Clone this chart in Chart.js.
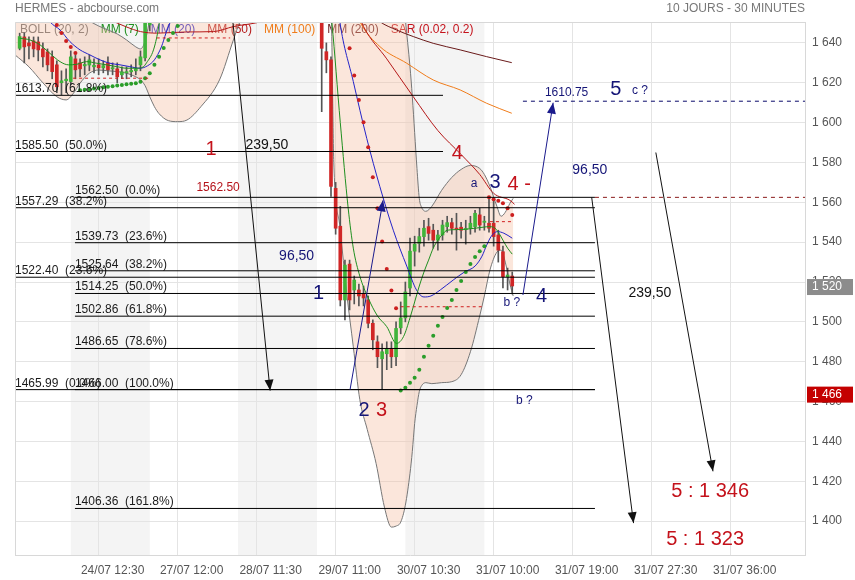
<!DOCTYPE html>
<html>
<head>
<meta charset="utf-8">
<script src="https://cdn.jsdelivr.net/npm/chart.js@4.4.0/dist/chart.umd.min.js"></script>
<style>
html, body { margin: 0; padding: 0; background: #fff; }
</style>
</head>
<body>
<canvas id="grafico" width="855" height="580"></canvas>
<script>
const FUENTE = '"Liberation Sans", Arial, Helvetica, sans-serif';

// ejes
const tickIdx = [18, 35, 52, 69, 86, 103, 120, 137, 154];
const tickLabels = ['24/07 12:30', '27/07 12:00', '28/07 11:30', '29/07 11:00', '30/07 10:30',
    '31/07 10:00', '31/07 19:00', '31/07 27:30', '31/07 36:00'];
const yTicks = [1400, 1420, 1440, 1460, 1480, 1500, 1520, 1540, 1560, 1580, 1600, 1620, 1640];
const bandStart = [12, 48, 84];
const bandEnd = [29, 65, 101];

// velas (indice de barra de 30 min)
const candleX = [1, 2, 3, 4, 5, 6, 7, 8, 9, 10, 11, 12, 13, 14, 15, 16, 17, 18, 19, 20, 21, 22, 23, 24, 25, 26, 27, 28, 29,
    66, 67, 68, 69, 70, 71, 72, 73, 74, 75, 76, 77, 78, 79, 80, 81, 82, 83, 84, 85, 86, 87, 88, 89, 90,
    91, 92, 93, 94, 95, 96, 97, 98, 99, 100, 101, 102, 103, 104, 105, 106, 107];
const openV = [1637.3, 1643, 1640, 1641, 1640.5, 1637, 1635.5, 1633, 1629, 1620, 1621, 1620.6, 1632, 1630, 1628.5,
    1628.9, 1628, 1629, 1627.5, 1630, 1627, 1627, 1624, 1625, 1625.5, 1626, 1629, 1632.5, 1649,
    1656, 1635.6, 1631.5, 1567, 1548, 1511, 1529, 1516, 1516, 1514, 1511, 1499.3, 1490, 1481.5, 1484,
    1486.5, 1482.5, 1497, 1502, 1517, 1535.5, 1539.4, 1542.8, 1547.8, 1546, 1541, 1543.6, 1547.8, 1549.8,
    1547, 1547.5, 1546.3, 1547, 1547.8, 1553.7, 1550, 1549.5, 1549.5, 1543.6, 1535.2, 1522.7, 1523];
const highV = [1644.9, 1645, 1643, 1643, 1643, 1640, 1637, 1636, 1631, 1626, 1627, 1636, 1634, 1632, 1633,
    1634, 1632, 1632, 1631, 1633, 1630, 1630, 1628, 1628, 1629, 1632, 1636, 1652, 1670,
    1662, 1640, 1633, 1570, 1558, 1531, 1531, 1523, 1519, 1518, 1513, 1501, 1493, 1489, 1490,
    1490, 1500, 1510, 1520, 1542, 1543, 1547, 1551, 1552, 1549, 1546, 1551, 1553, 1552,
    1554.5, 1550, 1551, 1553, 1556, 1557, 1553, 1562.5, 1562, 1546, 1538, 1527, 1525];
const lowV = [1636.5, 1630, 1632, 1633, 1631, 1628, 1626, 1622, 1615, 1614, 1615, 1619, 1622, 1623, 1624,
    1626, 1625, 1624, 1625, 1624, 1624, 1620, 1622, 1622, 1623, 1624, 1626, 1631, 1646,
    1605.5, 1625, 1563, 1544, 1508, 1501, 1506, 1509, 1508, 1508, 1497, 1486, 1477, 1466, 1476,
    1477, 1478, 1494, 1500, 1513, 1528, 1535, 1538, 1541, 1537, 1536, 1541, 1545, 1544,
    1536, 1542, 1539, 1544, 1545, 1546, 1546, 1545, 1538, 1530, 1517, 1516, 1514];
const closeV = [1643.2, 1638, 1638.5, 1637, 1636.5, 1633, 1629, 1625.6, 1618, 1621, 1621.8, 1633, 1626.5, 1627, 1629.2,
    1631.5, 1628.8, 1627.5, 1628.6, 1626.5, 1627.6, 1623, 1625.5, 1625.6, 1626.2, 1627, 1633, 1650, 1668,
    1637.3, 1631.5, 1568, 1547, 1511, 1528.5, 1511, 1521, 1513, 1512, 1499.3, 1491, 1482.5, 1485, 1486.5,
    1482.5, 1496.7, 1502, 1515, 1535.5, 1539, 1542.8, 1547, 1544.4, 1541, 1543.6, 1548.6, 1549.8, 1547,
    1546.5, 1546, 1546.8, 1549.5, 1554.5, 1548.6, 1550.5, 1547, 1542.8, 1536, 1522.7, 1523.5, 1518];

// Bollinger (20, 2)
const bbX = [0, 3, 6, 9, 11, 12.5, 14, 16, 18, 20, 22, 24, 26, 27, 28, 29, 30, 31, 33, 35, 37, 40, 44, 47, 48.4,
    52, 56, 60, 64, 66, 67, 68, 68.6, 69.9, 71.4, 72.8, 74.2, 75.8, 77.7, 79.5, 81, 82, 83, 84, 85, 85.5,
    86, 86.5, 87, 87.5, 88.4, 89.7, 91.8, 94, 96, 98, 100, 101, 102.2, 103.7, 104.6, 105.5, 106.5, 107.2];
const bbUpper = [1668, 1666, 1663, 1660, 1658, 1656, 1654, 1651, 1648.5, 1646.5, 1644.5, 1641.5, 1638, 1637, 1641,
    1652, 1665, 1678, 1692, 1702, 1710, 1716, 1720, 1722, 1723, 1725, 1725, 1724, 1722, 1720, 1719, 1718,
    1719, 1722, 1724, 1726, 1726, 1725, 1721, 1714, 1705, 1695, 1680, 1652, 1628, 1613, 1595, 1577, 1562,
    1557.5, 1555.5, 1558, 1566, 1572.5, 1576.5, 1578.5, 1577, 1574, 1568, 1558, 1553, 1555, 1559.5, 1562];
const bbLower = [1634, 1628, 1620, 1613, 1611.4, 1614.5, 1619.8, 1624.8, 1626.4, 1626, 1625.6, 1624.8, 1623, 1621.5, 1618.5,
    1613, 1608, 1604.5, 1601, 1600.5, 1601.3, 1608, 1621.4, 1641.5, 1650.5, 1662, 1670, 1674, 1675, 1672, 1666, 1658,
    1580, 1548, 1514, 1487.5, 1461, 1446, 1429, 1407, 1397, 1397.5, 1399.5, 1408, 1424, 1435, 1449, 1458, 1465,
    1468, 1469.5, 1469, 1469.5, 1470, 1473.5, 1485, 1503, 1513, 1526, 1535, 1536, 1530, 1519, 1513];

// moyennes mobiles (null = coupure)
const ma7X = [1, 3.2, 5.4, 7.5, 9.7, 11.5, 13.3, 15.4, 17.6, 19.7, 21.9, 24, 26.2, 27.6, 28.3, 29.8, 30.8, 31.6, 32.5, 48,
    66, 67, 68.2, 70, 71.7, 72.8, 74.2, 76, 78, 80, 82.1, 83.6, 85, 86, 87, 88, 89, 90, 91, 92, 93, 95, 97, 99,
    101, 102, 103, 104, 105, 106, 107];
const ma7Y = [1642.4, 1641.5, 1639, 1634.8, 1630.6, 1629, 1629.3, 1630.6, 1629.8, 1629, 1628.1, 1627.3, 1627.3, 1628, 1630,
    1636.5, 1646.5, 1660, 1680, null,
    1700, 1675, 1650, 1600, 1557, 1537, 1523, 1512, 1503, 1497.6, 1489.2, 1492.6, 1502, 1510, 1518, 1525, 1531, 1537,
    1541, 1544, 1546, 1546.3, 1546.5, 1547, 1547.6, 1547.8, 1547.5, 1545, 1541, 1537, 1534];
const ma20X = [6, 7.5, 9.7, 11.8, 14, 16.1, 18.3, 20.4, 22.6, 24.7, 26.9, 28.5, 30, 31.5, 32.5, 33.5, 35, 48,
    68, 69.9, 72.8, 75.7, 78.5, 81.4, 84.3, 86.4, 88, 89.5, 91.5, 94.3, 96.7, 99, 100.5, 101.5, 102.5, 103.8, 105.2, 107];
const ma20Y = [1657, 1650.7, 1646.5, 1640.7, 1636.5, 1634, 1631.5, 1629.8, 1629, 1628.1, 1627.3, 1628.5, 1631.5, 1638,
    1645, 1651, 1660, null,
    1690, 1650.7, 1620.6, 1592, 1568, 1546, 1528, 1516, 1512.5, 1513, 1516, 1521, 1525, 1528, 1533, 1538.5, 1543,
    1545.3, 1544.5, 1542];
const ma50X = [21, 24, 27, 30.5, 36.9, 42.7, 47, 53.4, 57, 65, 74, 75, 80, 85.7, 91, 96, 100, 103, 106.5, 107.5];
const ma50Y = [1651, 1648, 1645.7, 1644.9, 1645.5, 1645.7, 1648.2, 1651, 1655, null,
    1654, 1648.2, 1632, 1613, 1596, 1584, 1574, 1564.5, 1561, 1559];
const ma100X = [73, 74.2, 78.5, 84.3, 90, 95.8, 101.5, 106.9];
const ma100Y = [1658, 1650.7, 1638.2, 1629.8, 1621.4, 1616.4, 1609.7, 1604.7];
const ma200X = [77, 78.5, 82.1, 85.7, 90, 95.8, 101.5, 106.9];
const ma200Y = [1654, 1650.7, 1646.5, 1643.2, 1639.8, 1636.5, 1633.1, 1630.1];

// SAR (0.02, 0.2)
const sarRedX = [9, 10, 11, 12, 13, 72, 73, 74, 75, 76, 77, 78, 79, 80, 81, 82, 102, 103, 104, 105, 106, 107];
const sarRedY = [1649, 1645, 1641, 1638, 1635, 1637.3, 1623.6, 1611.4, 1600.2, 1587.6, 1572.6, 1557, 1540.3, 1526.5,
    1515.8, 1506.8, 1562.5, 1561.5, 1560.8, 1559.5, 1557, 1553.6];
const sarGreenX = [14, 15, 16, 17, 18, 19, 20, 21, 22, 23, 24, 25, 26, 27, 28, 29, 30, 31, 32, 33, 34, 35,
    83, 84, 85, 86, 87, 88, 89, 90, 91, 92, 93, 94, 95, 96, 97, 98, 99, 100, 101];
const sarGreenY = [1616.2, 1616.5, 1616.8, 1617.1, 1617.4, 1617.7, 1618, 1618.3, 1618.6, 1618.9, 1619.2, 1619.5,
    1619.8, 1620.5, 1622.3, 1624.8, 1629, 1633, 1637.5, 1641.5, 1645, 1648.5,
    1465.5, 1467, 1469.5, 1472, 1476, 1482.5, 1488, 1493, 1498, 1502.5, 1507, 1511, 1516, 1520.5, 1525, 1529,
    1532.5, 1535.5, 1538];

// Fibonacci
const fibALevels = [1613.70, 1585.50, 1557.29, 1522.40, 1465.99];
const fibAPct = ['61.8%', '50.0%', '38.2%', '23.6%', '0.0%'];
const fibAEnd = [92.1, 92.1, 124.8, 124.8, 124.8];
const fibAStart = 0;
const fibBLevels = [1562.50, 1539.73, 1525.64, 1514.25, 1502.86, 1486.65, 1466.00, 1406.36];
const fibBPct = ['0.0%', '23.6%', '38.2%', '50.0%', '61.8%', '78.6%', '100.0%', '161.8%'];
const fibBStart = 12.9;
const fibBEnd = 124.8;

// tracés : [x1, prix1, x2, prix2]
const dashRed = [[12.5, 1622.3, 29, 1622.3], [30.5, 1642.5, 46.3, 1642.5], [83, 1507.6, 100.7, 1507.6], [102.2, 1550.3, 107.2, 1550.3]];
const dashMaroon = [[124.8, 1562.5, 170, 1562.5]];
const dashNavy = [[109.3, 1610.75, 170, 1610.75]];
const arrowsBlack = [[44.5, 1705.5, 54.9, 1465.5], [124.1, 1562.5, 133.1, 1399], [137.9, 1585, 150.2, 1425]];
const arrowsNavy = [[72.1, 1466, 79.2, 1561], [109.3, 1513.5, 115.8, 1610]];

// notes : [texte, x, prix, style]
const notes = [
    ['1', 42.2, 1586.3, 'rojoG'], ['239,50', 54.2, 1588.8, 'negro'], ['1562.50', 43.7, 1567.2, 'rojoP'],
    ['4', 95.2, 1584.5, 'rojoG'], ['a', 98.8, 1569.2, 'azulP'], ['3', 103.3, 1569.9, 'azulG'],
    ['4 -', 108.5, 1569.2, 'rojoG'], ['b ?', 106.9, 1509.6, 'azulP'], ['4', 113.3, 1512.6, 'azulG'],
    ['b ?', 109.6, 1460.4, 'azulP'], ['1', 65.3, 1514.3, 'azulG'], ['2', 75.1, 1455.7, 'azulG'],
    ['3', 78.9, 1455.7, 'rojoG'], ['96,50', 60.6, 1533, 'azul'], ['96,50', 123.7, 1576.2, 'azul'],
    ['1610.75', 118.7, 1615, 'azulP'], ['5', 129.3, 1616.4, 'azulG'], ['c ?', 134.5, 1616, 'azulP'],
    ['239,50', 136.6, 1514.5, 'negro'], ['5 : 1 346', 149.6, 1414.7, 'rojoG'], ['5 : 1 323', 148.5, 1390.8, 'rojoG']
];
const priceTags = [[1520, 'gris'], [1466, 'rojo']];

const estilos = {
    rojoG: { c: '#c4121b', f: 20 }, azulG: { c: '#151577', f: 20 }, negro: { c: '#111', f: 14 },
    azul: { c: '#151577', f: 14 }, azulP: { c: '#151577', f: 12 }, rojoP: { c: '#b5141c', f: 12 }
};

function miles(v) {
    const s = String(Math.round(v));
    return s.length > 3 ? s.slice(0, -3) + ' ' + s.slice(-3) : s;
}

function xy(xs, ys) {
    return xs.map((x, i) => ({ x: x, y: ys[i] }));
}

const wicks = candleX.map((x, i) => ({ x: x, y: [lowV[i], highV[i]] }));
const bodies = candleX.map((x, i) => {
    let a = openV[i], b = closeV[i];
    if (Math.abs(a - b) < 0.6) { const m = (a + b) / 2; a = m - 0.3; b = m + 0.3; }
    return { x: x, y: [a, b] };
});
const bodyColors = candleX.map((x, i) => closeV[i] >= openV[i] ? '#3fb43a' : '#d02626');

function linea(ctx, x, y, seg, color, dash) {
    ctx.strokeStyle = color;
    ctx.lineWidth = 1;
    ctx.setLineDash(dash || []);
    ctx.beginPath();
    ctx.moveTo(x.getPixelForValue(seg[0]), y.getPixelForValue(seg[1]));
    ctx.lineTo(x.getPixelForValue(seg[2]), y.getPixelForValue(seg[3]));
    ctx.stroke();
    ctx.setLineDash([]);
}

function flecha(ctx, x, y, seg, color) {
    linea(ctx, x, y, seg, color);
    const x1 = x.getPixelForValue(seg[0]), y1 = y.getPixelForValue(seg[1]);
    const x2 = x.getPixelForValue(seg[2]), y2 = y.getPixelForValue(seg[3]);
    const ang = Math.atan2(y2 - y1, x2 - x1);
    const L = 11, W = 4.5;
    ctx.fillStyle = color;
    ctx.beginPath();
    ctx.moveTo(x2, y2);
    ctx.lineTo(x2 - L * Math.cos(ang) + W * Math.sin(ang), y2 - L * Math.sin(ang) - W * Math.cos(ang));
    ctx.lineTo(x2 - L * Math.cos(ang) - W * Math.sin(ang), y2 - L * Math.sin(ang) + W * Math.cos(ang));
    ctx.closePath();
    ctx.fill();
}

const dibujos = {
    id: 'dibujos',
    beforeDraw(chart) {
        const { ctx, chartArea: a, scales: { x } } = chart;
        ctx.save();
        ctx.fillStyle = '#f4f4f4';
        bandStart.forEach((s, i) => {
            const x1 = x.getPixelForValue(s), x2 = x.getPixelForValue(bandEnd[i]);
            ctx.fillRect(x1, a.top, x2 - x1, a.bottom - a.top);
        });
        ctx.restore();
    },
    beforeDatasetsDraw(chart) {
        const { ctx, chartArea: a } = chart;
        const items = [['BOLL (20, 2)', '#666'], ['MM (7)', '#1f8f1f'], ['MM (20)', '#2424c8'], ['MM (50)', '#b51818'],
            ['MM (100)', '#f07c1a'], ['MM (200)', '#6a1a1a'], ['SAR (0.02, 0.2)', '#c4121b']];
        ctx.save();
        ctx.font = '12px ' + FUENTE;
        ctx.textBaseline = 'middle';
        let px = a.left + 5;
        items.forEach(([t, c]) => {
            ctx.fillStyle = c;
            ctx.fillText(t, px, a.top + 8);
            px += ctx.measureText(t).width + 12;
        });
        ctx.restore();
    },
    afterDatasetsDraw(chart) {
        const { ctx, chartArea: a, scales: { x, y } } = chart;
        ctx.save();
        ctx.beginPath();
        ctx.rect(a.left, a.top, a.right - a.left, a.bottom - a.top);
        ctx.clip();

        ctx.font = '12px ' + FUENTE;
        ctx.textBaseline = 'alphabetic';
        ctx.textAlign = 'left';
        fibALevels.forEach((p, i) => {
            linea(ctx, x, y, [fibAStart, p, fibAEnd[i], p], '#000');
            ctx.fillStyle = '#1a1a1a';
            ctx.fillText(p.toFixed(2) + '  (' + fibAPct[i] + ')', x.getPixelForValue(fibAStart), y.getPixelForValue(p) - 3);
        });
        fibBLevels.forEach((p, i) => {
            linea(ctx, x, y, [fibBStart, p, fibBEnd, p], '#000');
            ctx.fillStyle = '#1a1a1a';
            ctx.fillText(p.toFixed(2) + '  (' + fibBPct[i] + ')', x.getPixelForValue(fibBStart), y.getPixelForValue(p) - 3);
        });

        dashRed.forEach(s => linea(ctx, x, y, s, '#d02020', [3, 3]));
        dashMaroon.forEach(s => linea(ctx, x, y, s, '#8b1a1a', [4, 4]));
        dashNavy.forEach(s => linea(ctx, x, y, s, '#0b0b6b', [4, 4]));
        arrowsBlack.forEach(s => flecha(ctx, x, y, s, '#111'));
        arrowsNavy.forEach(s => flecha(ctx, x, y, s, '#1a1a8c'));

        ctx.textAlign = 'center';
        ctx.textBaseline = 'middle';
        notes.forEach(([t, nx, np, st]) => {
            const e = estilos[st];
            ctx.font = e.f + 'px ' + FUENTE;
            ctx.fillStyle = e.c;
            ctx.fillText(t, x.getPixelForValue(nx), y.getPixelForValue(np));
        });
        ctx.restore();
    },
    afterDraw(chart) {
        const { ctx, chartArea: a, scales: { y } } = chart;
        ctx.save();
        ctx.strokeStyle = '#d8d8d8';
        ctx.lineWidth = 1;
        ctx.beginPath();
        ctx.moveTo(a.left + 0.5, a.bottom);
        ctx.lineTo(a.left + 0.5, a.top + 0.5);
        ctx.lineTo(a.right, a.top + 0.5);
        ctx.stroke();

        ctx.font = '12px ' + FUENTE;
        ctx.textBaseline = 'middle';
        ctx.fillStyle = '#777';
        ctx.textAlign = 'left';
        ctx.fillText('HERMES - abcbourse.com', a.left, 9);
        ctx.textAlign = 'right';
        ctx.fillText('10 JOURS - 30 MINUTES', a.right, 9);

        ctx.textAlign = 'left';
        priceTags.forEach(([v, kind]) => {
            const py = y.getPixelForValue(v) + 5;
            ctx.fillStyle = kind === 'rojo' ? '#c40000' : '#8c8c8c';
            ctx.fillRect(a.right + 2, py - 8, 46, 16);
            ctx.fillStyle = '#fff';
            ctx.fillText(miles(v), a.right + 7, py);
        });
        ctx.restore();
    }
};

function lineaMM(label, xs, ys, color, order) {
    return {
        type: 'line', label: label, data: xy(xs, ys), borderColor: color, borderWidth: 1,
        pointRadius: 0, fill: false, spanGaps: false, cubicInterpolationMode: 'monotone', order: order
    };
}

function puntosSAR(label, xs, ys, color) {
    return {
        type: 'line', label: label, data: xy(xs, ys), showLine: false, pointRadius: 2,
        pointBorderWidth: 0, pointBackgroundColor: color, borderColor: color, order: 0
    };
}

const ctx = document.getElementById('grafico').getContext('2d');
new Chart(ctx, {
    type: 'bar',
    data: {
        datasets: [
            {
                type: 'line', label: 'BOLL sup', data: xy(bbX, bbUpper), borderColor: '#777', borderWidth: 1,
                pointRadius: 0, fill: '+1', backgroundColor: 'rgba(245, 190, 160, 0.38)',
                cubicInterpolationMode: 'monotone', order: 10
            },
            {
                type: 'line', label: 'BOLL inf', data: xy(bbX, bbLower), borderColor: '#777', borderWidth: 1,
                pointRadius: 0, fill: false, cubicInterpolationMode: 'monotone', order: 9
            },
            { label: 'mechas', data: wicks, backgroundColor: '#555', barThickness: 1, grouped: false, order: 8 },
            { label: 'velas', data: bodies, backgroundColor: bodyColors, barThickness: 3, grouped: false, order: 7 },
            lineaMM('MM (200)', ma200X, ma200Y, '#6a1a1a', 6),
            lineaMM('MM (100)', ma100X, ma100Y, '#f07c1a', 5),
            lineaMM('MM (50)', ma50X, ma50Y, '#b51818', 4),
            lineaMM('MM (20)', ma20X, ma20Y, '#2424c8', 3),
            lineaMM('MM (7)', ma7X, ma7Y, '#1f8f1f', 2),
            puntosSAR('SAR haut', sarRedX, sarRedY, '#cc1f1f'),
            puntosSAR('SAR bas', sarGreenX, sarGreenY, '#2a9d2a')
        ]
    },
    options: {
        responsive: false,
        animation: false,
        events: [],
        layout: { padding: { top: 22, left: 15, right: 0, bottom: 0 } },
        plugins: { legend: { display: false }, tooltip: { enabled: false } },
        scales: {
            x: {
                type: 'linear', min: 0, max: 170, offset: false,
                grid: { color: '#e4e4e4', drawTicks: false, offset: false },
                border: { color: '#d8d8d8' },
                afterBuildTicks: (s) => { s.ticks = tickIdx.map(v => ({ value: v })); },
                afterFit: (s) => { s.height = 25; },
                ticks: {
                    autoSkip: false, maxRotation: 0, minRotation: 0, padding: 8, labelOffset: 14,
                    color: '#555', font: { family: FUENTE, size: 12 },
                    callback: (v) => { const i = tickIdx.indexOf(v); return i < 0 ? '' : tickLabels[i]; }
                }
            },
            y: {
                type: 'linear', position: 'right', min: 1383, max: 1650.5, beginAtZero: false,
                grid: { color: '#e4e4e4', drawTicks: false },
                border: { color: '#d8d8d8' },
                afterBuildTicks: (s) => { s.ticks = yTicks.map(v => ({ value: v })); },
                afterFit: (s) => { s.width = 50; },
                ticks: { padding: 7, color: '#555', font: { family: FUENTE, size: 12 }, callback: (v) => miles(v) }
            }
        }
    },
    plugins: [dibujos]
});
</script>
</body>
</html>
